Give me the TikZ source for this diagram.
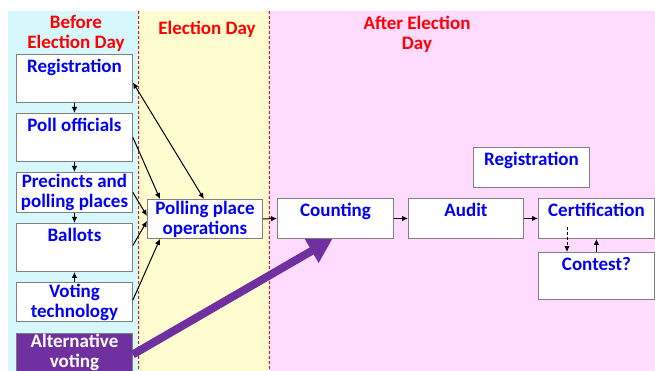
\documentclass[tikz,border=0pt]{standalone}
\usepackage{fontspec}
\setmainfont{Carlito}
\usetikzlibrary{arrows.meta,calc}
\definecolor{bgcyan}{HTML}{D6F8FC}
\definecolor{bgyellow}{HTML}{FFFDCF}
\definecolor{bgpink}{HTML}{FFDBFF}
\definecolor{boxgray}{HTML}{7F7F7F}
\definecolor{txtblue}{HTML}{0000F8}
\definecolor{hdrred}{HTML}{FF0000}
\definecolor{altpurple}{HTML}{7030A0}
\tikzset{
  box/.style={draw=boxgray, line width=0.9pt, fill=white, anchor=north west, inner sep=0pt},
  boxtxt/.style={font=\fontsize{19}{20}\selectfont\bfseries, text=txtblue, align=center},
  toplbl/.style={font=\fontsize{19}{20}\selectfont\bfseries, text=txtblue, anchor=north, inner sep=5pt, text height=13pt, text depth=4pt},
  hdr/.style={font=\fontsize{19}{20}\selectfont\bfseries, text=hdrred, align=center},
  tip/.tip={Latex[length=6pt,width=5.5pt]},
  conn/.style={draw=black, line width=1pt, -tip},
  divider/.style={draw=hdrred, line width=0.9pt, dash pattern=on 3pt off 2pt},
}
\begin{document}
\begin{tikzpicture}[x=1pt,y=-1pt]
\useasboundingbox (0,0) rectangle (655,371);
\clip (0,0) rectangle (655,371);
% background bands
\fill[bgcyan] (8,11) rectangle (138,371);
\fill[bgyellow] (138,11) rectangle (269,371);
\fill[bgpink] (269,11) rectangle (655,371);
\draw[divider] (138,11) -- (138,371);
\draw[divider] (269,11) -- (269,371);
% headers
\node[hdr] (hbefore) at (76,33) {Before\\Election Day};
\node[hdr] (hday) at (207,29) {Election Day};
\node[hdr] (hafter) at (417,34) {After Election\\Day};
% left column boxes
\node[box, minimum width=116pt, minimum height=48pt, label={[toplbl]north:Registration}] (reg) at (16,54) {};
\node[box, minimum width=116pt, minimum height=48pt, label={[toplbl]north:Poll officials}] (poll) at (16,113) {};
\node[box, boxtxt, minimum width=116pt, minimum height=40pt] (prec) at (16,172) {Precincts and\\polling places};
\node[box, minimum width=116pt, minimum height=48pt, label={[toplbl]north:Ballots}] (ballots) at (16,223) {};
\node[box, boxtxt, minimum width=116pt, minimum height=39pt] (vt) at (16,282) {Voting\\technology};
\node[box, fill=altpurple, minimum width=116pt, minimum height=50pt,
  label={[font=\fontsize{19}{20}\selectfont\bfseries, text=white, anchor=north, inner sep=1pt, align=center]north:Alternative\\voting}] (alt) at (16,333) {};
% middle
\node[box, boxtxt, minimum width=115pt, minimum height=39pt] (ppo) at (147,199) {Polling place\\operations};
% right
\node[box, minimum width=116pt, minimum height=40pt, label={[toplbl]north:Counting}] (count) at (277,198) {};
\node[box, minimum width=115pt, minimum height=40pt, label={[toplbl]north:Audit}] (audit) at (408,198) {};
\node[box, minimum width=116pt, minimum height=40pt, label={[toplbl]north:Certification}] (cert) at (538,198) {};
\node[box, minimum width=116pt, minimum height=47pt, label={[toplbl]north:Contest?}] (contest) at (538,252) {};
\node[box, minimum width=116pt, minimum height=40pt, label={[toplbl]north:Registration}] (reg2) at (473,147) {};
% connectors in left column
\draw[conn] (reg) -- (poll);
\draw[conn] (poll) -- (prec);
\draw[conn] (prec) -- (ballots);
\draw[conn] (vt) -- (ballots);
% to polling place operations
\draw[conn, tip-tip] ([yshift=-4pt]reg.east) -- ([xshift=-1pt]ppo.north);
\draw[conn] (poll.east) -- ([xshift=13pt]ppo.north west);
\draw[conn] (prec.east) -- ([yshift=3pt]ppo.west);
\draw[conn] ([yshift=2pt]ballots.east) -- ([yshift=-2pt]ppo.west);
\draw[conn] ([yshift=2pt]vt.east) -- ([xshift=13pt]ppo.south west);
% main flow
\draw[conn] (ppo.east) -- (count.west);
\draw[conn] (count) -- (audit);
\draw[conn] (audit) -- (cert);
\draw[conn, dash pattern=on 3pt off 2pt] ([xshift=29pt,yshift=12pt]cert.south west) -- ([xshift=29pt]contest.north west);
\draw[conn] (contest.north) -- (cert.south);
% alternative voting arrow
\draw[altpurple, line width=8pt, -{Triangle[length=24pt,width=26pt]}] ([yshift=4pt]alt.east) -- ([xshift=-3pt]count.south);
\end{tikzpicture}
\end{document}
